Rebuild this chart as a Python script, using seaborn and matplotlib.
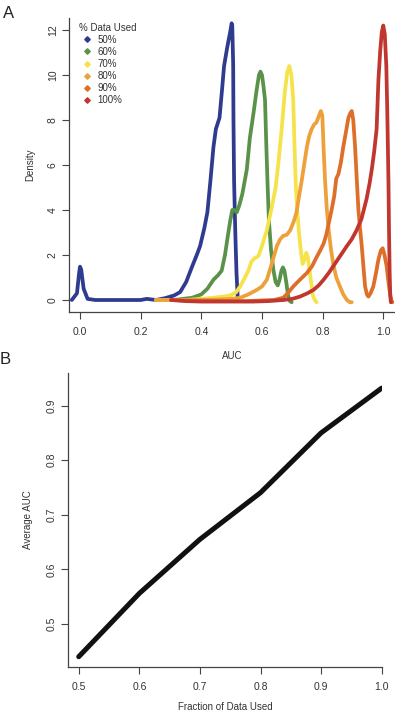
import numpy as np
import pandas as pd
import matplotlib
matplotlib.use("Agg")
import matplotlib.pyplot as plt
import seaborn as sns
from matplotlib.lines import Line2D

# Panel A: density of AUC for each fraction of data used
auc_50 = [-0.027, -0.01, -0.003, 0.0, 0.004, 0.012, 0.025, 0.05, 0.1, 0.15, 0.2, 0.22, 0.25, 0.28,
          0.31, 0.33, 0.35, 0.37, 0.385, 0.396, 0.41, 0.42, 0.43, 0.44, 0.448, 0.46, 0.468, 0.475,
          0.485, 0.495, 0.5, 0.502, 0.505, 0.506, 0.508, 0.512, 0.516, 0.52]
den_50 = [0.0, 0.3, 1.2, 1.48, 1.35, 0.5, 0.05, 0.0, 0.0, 0.0, 0.0, 0.05, 0.0, 0.08,
          0.2, 0.35, 0.8, 1.5, 2.0, 2.4, 3.2, 3.9, 5.3, 6.8, 7.6, 8.1, 9.3, 10.4,
          11.2, 11.9, 12.3, 12.2, 10.5, 8.0, 5.3, 3.0, 1.2, 0.1]

auc_60 = [0.28, 0.31, 0.34, 0.37, 0.40, 0.42, 0.44, 0.455, 0.467, 0.478, 0.488, 0.495, 0.502, 0.51,
          0.517, 0.525, 0.535, 0.55, 0.56, 0.572, 0.582, 0.59, 0.595, 0.6, 0.605, 0.61, 0.614,
          0.618, 0.623, 0.63, 0.638, 0.645, 0.652, 0.658, 0.664, 0.669, 0.674, 0.68, 0.686,
          0.692, 0.698]
den_60 = [0.0, 0.0, 0.05, 0.1, 0.25, 0.5, 0.9, 1.1, 1.3, 2.0, 2.9, 3.5, 4.0, 4.0,
          3.9, 4.2, 4.7, 5.8, 7.2, 8.3, 9.3, 10.0, 10.15, 10.0, 9.5, 8.9, 7.0,
          5.3, 3.5, 2.2, 1.3, 0.8, 0.65, 0.9, 1.3, 1.45, 1.3, 0.8, 0.2,
          -0.05, -0.1]

auc_70 = [0.25, 0.3, 0.35, 0.4, 0.44, 0.47, 0.495, 0.515, 0.528, 0.542, 0.555, 0.565, 0.575, 0.588,
          0.6, 0.616, 0.632, 0.645, 0.655, 0.665, 0.675, 0.683, 0.69, 0.697, 0.703, 0.707, 0.711,
          0.716, 0.722, 0.728, 0.734, 0.74, 0.746, 0.751, 0.756, 0.762, 0.768, 0.774, 0.78]
den_70 = [0.0, 0.0, 0.0, 0.05, 0.1, 0.15, 0.2, 0.35, 0.6, 0.95, 1.3, 1.7, 1.85, 1.95,
          2.4, 3.1, 4.1, 5.0, 6.2, 7.6, 9.2, 10.1, 10.4, 10.0, 8.9, 7.0, 5.3,
          4.0, 3.0, 2.2, 1.6, 1.8, 2.1, 1.9, 1.4, 0.8, 0.2, 0.0, -0.1]

auc_80 = [0.25, 0.3, 0.35, 0.4, 0.45, 0.5, 0.528, 0.555, 0.583, 0.6, 0.616, 0.632, 0.649, 0.66,
          0.67, 0.682, 0.693, 0.705, 0.714, 0.722, 0.731, 0.74, 0.748, 0.756, 0.764, 0.772, 0.78,
          0.788, 0.794, 0.799, 0.803, 0.808, 0.814, 0.82, 0.828, 0.835, 0.845, 0.857, 0.868,
          0.88, 0.89, 0.896]
den_80 = [0.0, 0.0, -0.02, 0.0, 0.02, 0.05, 0.1, 0.25, 0.45, 0.6, 0.9, 1.6, 2.4, 2.7,
          2.85, 2.9, 3.1, 3.5, 3.9, 4.6, 5.3, 6.1, 6.8, 7.3, 7.6, 7.8, 7.9,
          8.2, 8.4, 8.2, 6.8, 5.3, 4.0, 3.1, 2.2, 1.6, 1.0, 0.6, 0.25,
          0.0, -0.1, -0.1]

auc_90 = [0.3, 0.4, 0.5, 0.55, 0.6, 0.64, 0.67, 0.685, 0.703, 0.725, 0.748, 0.765, 0.78, 0.792,
          0.803, 0.812, 0.82, 0.828, 0.838, 0.845, 0.852, 0.86, 0.868, 0.876, 0.885, 0.891,
          0.896, 0.901, 0.907, 0.912, 0.918, 0.924, 0.929, 0.935, 0.94, 0.946, 0.951, 0.958,
          0.967, 0.976, 0.984, 0.992, 0.998, 1.004, 1.011, 1.017, 1.022, 1.026, 1.03]
den_90 = [0.0, -0.03, -0.05, -0.05, -0.02, 0.0, 0.1, 0.3, 0.6, 0.9, 1.2, 1.5, 1.9, 2.2,
          2.5, 2.9, 3.4, 3.9, 4.6, 5.4, 5.6, 6.1, 6.8, 7.4, 8.1, 8.3,
          8.4, 8.0, 6.8, 5.5, 4.0, 3.1, 2.4, 1.4, 0.6, 0.25, 0.15, 0.3,
          0.6, 1.2, 1.8, 2.2, 2.3, 2.0, 1.5, 0.8, 0.3, 0.0, -0.1]

auc_100 = [0.3, 0.35, 0.4, 0.45, 0.5, 0.57, 0.62, 0.67, 0.7, 0.725, 0.75, 0.77, 0.787, 0.803,
           0.82, 0.835, 0.85, 0.865, 0.88, 0.896, 0.912, 0.928, 0.945, 0.955, 0.962, 0.97,
           0.978, 0.984, 0.99, 0.995, 1.0, 1.005, 1.01, 1.013, 1.017, 1.019, 1.021, 1.023, 1.025]
den_100 = [0.0, -0.05, -0.07, -0.07, -0.07, -0.07, -0.05, 0.0, 0.05, 0.15, 0.3, 0.45, 0.65, 0.9,
           1.2, 1.5, 1.8, 2.1, 2.4, 2.7, 3.1, 3.6, 4.5, 5.2, 5.8, 6.6,
           7.6, 9.8, 11.1, 11.9, 12.2, 11.8, 10.4, 8.5, 5.3, 3.0, 1.2, 0.2, -0.1]

series_labels = ["50%", "60%", "70%", "80%", "90%", "100%"]
series_colors = ["#2f3b8e", "#5a9249", "#f6e24a", "#eea13a", "#de6f2a", "#c0372f"]

# Panel B: average AUC vs fraction of data
fraction = [0.5, 0.6, 0.7, 0.8, 0.9, 1.0]
avg_auc = [0.440, 0.556, 0.655, 0.7405, 0.850, 0.932]

sns.set_style("ticks")
plt.rcParams['font.family'] = ['Liberation Sans', 'DejaVu Sans']
txt = "#333333"

curves = [(auc_50, den_50), (auc_60, den_60), (auc_70, den_70),
          (auc_80, den_80), (auc_90, den_90), (auc_100, den_100)]
frames = []
for lab, (xs, ys) in zip(series_labels, curves):
    frames.append(pd.DataFrame({"AUC": xs, "Density": ys, "used": lab}))
dens = pd.concat(frames, ignore_index=True)

fig = plt.figure(figsize=(3.95, 7.11), dpi=100)
axA = fig.add_axes([69 / 395, 0.5612, 1 - 69 / 395, 0.4139])
axB = fig.add_axes([68 / 395, 0.0619, (382 - 68) / 395, 0.4135])

sns.lineplot(data=dens, x="AUC", y="Density", hue="used", palette=series_colors,
             hue_order=series_labels, sort=False, estimator=None, linewidth=2.7,
             legend=False, ax=axA)
axA.set_xlim(-0.0363, 1.0386)
axA.set_ylim(-0.533, 12.547)
axA.set_xticks([0.0, 0.2, 0.4, 0.6, 0.8, 1.0])
axA.set_xticklabels(["0.0", "0.2", "0.4", "0.6", "0.8", "1.0"])
axA.set_yticks([0, 2, 4, 6, 8, 10, 12])
axA.set_xlabel("AUC", fontsize=7, color=txt, labelpad=10)
axA.set_ylabel("Density", fontsize=7, color=txt, labelpad=9)

handles = [Line2D([], [], linestyle="none", marker="D", markersize=2.8, color=c) for c in series_colors]
leg = axA.legend(handles, series_labels, title="% Data Used", loc="upper left",
                 bbox_to_anchor=(0.015, 1.0), frameon=False, fontsize=7, title_fontsize=7,
                 handlelength=1.6, handletextpad=0.3, labelspacing=0.22, borderpad=0,
                 alignment="left")
for t in leg.get_texts():
    t.set_color(txt)
leg.get_title().set_color(txt)

sns.lineplot(x=fraction, y=avg_auc, color="#111111", linewidth=3.6, ax=axB)

for ax in (axA, axB):
    for ln in ax.lines:
        ln.set_solid_capstyle("round")
        ln.set_solid_joinstyle("round")

axB.set_xlim(0.4823, 1.0005)
axB.set_ylim(0.4212, 0.9597)
axB.set_xticks([0.5, 0.6, 0.7, 0.8, 0.9, 1.0])
axB.set_yticks([0.5, 0.6, 0.7, 0.8, 0.9])
axB.set_xlabel("Fraction of Data Used", fontsize=7, color=txt, labelpad=7)
axB.set_ylabel("Average AUC", fontsize=7, color=txt, labelpad=10)

for ax in (axA, axB):
    sns.despine(ax=ax)
    for s in ("left", "bottom"):
        ax.spines[s].set_color("#444444")
        ax.spines[s].set_linewidth(0.9)
    ax.tick_params(axis="both", length=5, width=0.8, color="#444444",
                   labelsize=7.5, labelcolor=txt)
    ax.tick_params(axis="x", pad=6)
    ax.tick_params(axis="y", labelrotation=90, pad=3)
    for lbl in ax.get_yticklabels():
        lbl.set_va("center")

fig.text(9 / 395, 1 - 14 / 711, "A", fontsize=12, ha="center", va="center", color="#222222")
fig.text(5 / 395, 1 - 360 / 711, "B", fontsize=12, ha="center", va="center", color="#222222")

fig.savefig("out.png", dpi=100)
